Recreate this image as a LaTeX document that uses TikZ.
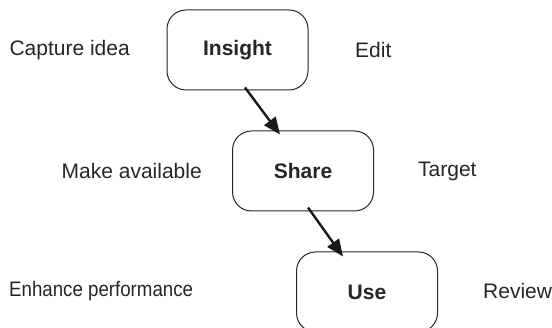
\documentclass[tikz,border=0pt]{standalone}
\usepackage{fontspec}
\setmainfont{Liberation Sans}
\usetikzlibrary{arrows.meta}
\begin{document}
\begin{tikzpicture}[x=1pt,y=-1pt,
  stagebox/.style={draw=black!85,line width=1pt,rounded corners=19pt,
    minimum width=141pt,minimum height=80pt,inner sep=0pt,
    font=\fontsize{21}{24}\selectfont\bfseries,text=black!85},
  sidelabel/.style={inner sep=0pt,font=\fontsize{21}{24}\selectfont,text=black!85},
  flowarrow/.style={line width=2.4pt,black!90,-{Triangle[length=17pt,width=14pt]}}]
\useasboundingbox (0,0) rectangle (552,328);
\node[stagebox] (ins) at (237.5,50) {Insight};
\node[stagebox] (sha) at (303,171) {Share};
\node[stagebox] (use) at (367,292) {Use};
\node[sidelabel,anchor=east] (cap) at (130,50) {Capture idea};
\node[sidelabel,anchor=west] (edi) at (355,50) {Edit};
\node[sidelabel,anchor=east] (mak) at (202,171) {Make available};
\node[sidelabel,anchor=west] (tar) at (418,171) {Target};
\node[sidelabel,anchor=west] (enh) at (9,291) {\scalebox{0.89}[1]{Enhance performance}};
\node[sidelabel,anchor=west] (rev) at (483,291) {Review};
\draw[flowarrow] ([xshift=7.5pt,yshift=3pt]ins.south) -- ([xshift=-23pt,yshift=-4pt]sha.north);
\draw[flowarrow] ([xshift=5pt,yshift=4pt]sha.south) -- ([xshift=-24pt,yshift=-5pt]use.north);
\end{tikzpicture}
\end{document}
